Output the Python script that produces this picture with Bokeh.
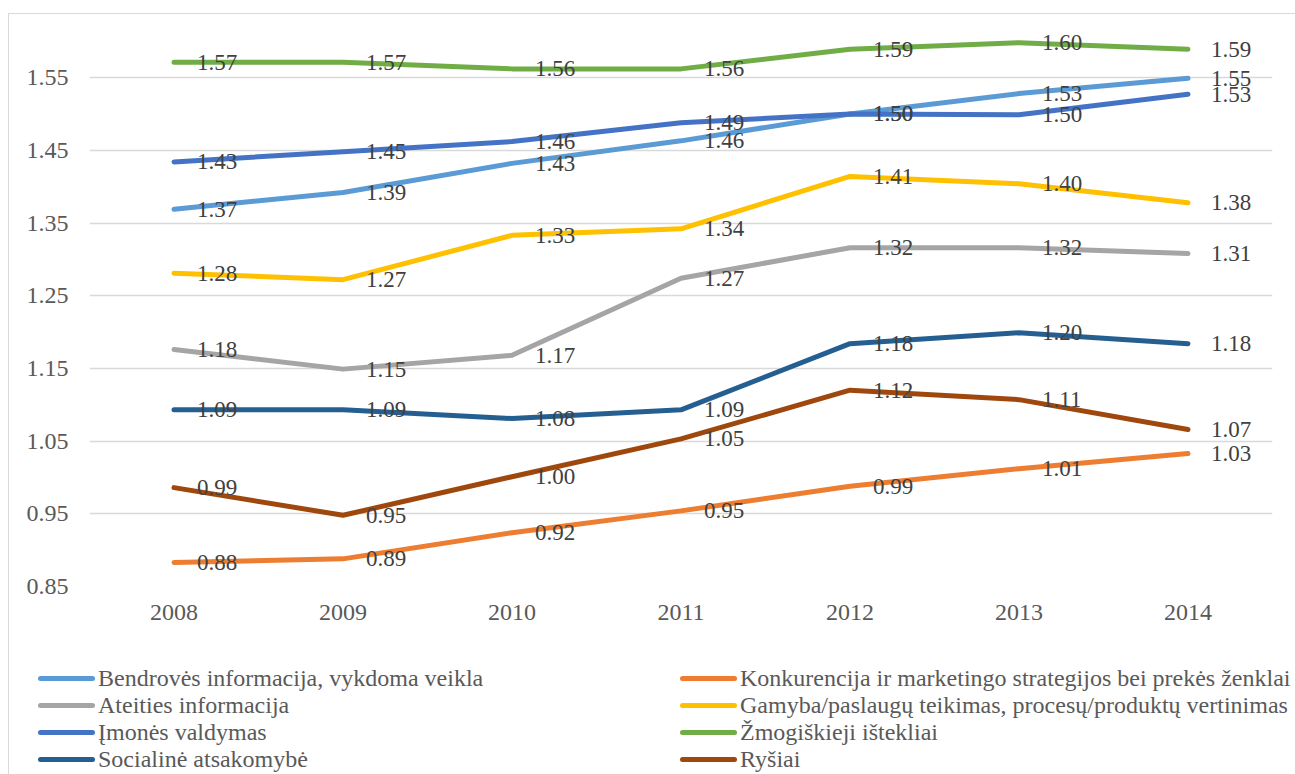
from bokeh.plotting import figure
from bokeh.layouts import column
from bokeh.models import (FactorRange, Range1d, FixedTicker, NumeralTickFormatter,
                          ColumnDataSource, Div)
from bokeh.core.properties import value
from bokeh.embed import file_html
from bokeh.resources import INLINE

years = ["2008", "2009", "2010", "2011", "2012", "2013", "2014"]

series_names = [
    "Bendrovės informacija, vykdoma veikla",
    "Konkurencija ir marketingo strategijos bei prekės ženklai",
    "Ateities informacija",
    "Gamyba/paslaugų teikimas, procesų/produktų vertinimas",
    "Įmonės valdymas",
    "Žmogiškieji ištekliai",
    "Socialinė atsakomybė",
    "Ryšiai",
]

bendroves = [1.369, 1.392, 1.432, 1.463, 1.500, 1.528, 1.549]
konkurencija = [0.883, 0.888, 0.924, 0.954, 0.988, 1.012, 1.033]
ateities = [1.176, 1.149, 1.168, 1.274, 1.316, 1.316, 1.308]
gamyba = [1.281, 1.272, 1.333, 1.342, 1.414, 1.404, 1.378]
imones = [1.434, 1.448, 1.462, 1.488, 1.500, 1.499, 1.527]
zmogiskieji = [1.571, 1.571, 1.562, 1.562, 1.589, 1.598, 1.589]
socialine = [1.093, 1.093, 1.081, 1.093, 1.184, 1.199, 1.184]
rysiai = [0.986, 0.948, 1.001, 1.053, 1.120, 1.107, 1.066]

y_ticks = [0.85, 0.95, 1.05, 1.15, 1.25, 1.35, 1.45, 1.55]

colors = ["#5B9BD5", "#ED7D31", "#A5A5A5", "#FFC000",
          "#4472C4", "#70AD47", "#255E91", "#9E480E"]

all_series = [bendroves, konkurencija, ateities, gamyba,
              imones, zmogiskieji, socialine, rysiai]

FONT = "Liberation Serif"
LINE_W = 5

# chart placed at x=9, y=14 inside the bordered container
p = figure(width=1286, height=632, output_backend="svg", toolbar_location=None,
           x_range=FactorRange(factors=years, range_padding=0),
           y_range=Range1d(0.85, 0.85 + 572 / 727.0),
           min_border_left=80, min_border_right=23, min_border_top=0,
           min_border_bottom=60)
p.background_fill_color = "white"
p.border_fill_color = "white"
p.outline_line_color = None

p.xgrid.grid_line_color = None
p.ygrid.grid_line_color = "#D9D9D9"
p.ygrid.grid_line_width = 1.3
p.yaxis.ticker = FixedTicker(ticks=y_ticks)
p.yaxis.formatter = NumeralTickFormatter(format="0.00")

for ax in (p.xaxis[0], p.yaxis[0]):
    ax.axis_line_color = None
    ax.major_tick_line_color = None
    ax.minor_tick_line_color = None
    ax.major_tick_out = 0
    ax.major_tick_in = 0
    ax.major_label_text_font = FONT
    ax.major_label_text_font_size = "24px"
    ax.major_label_text_color = "#595959"
p.yaxis.major_label_standoff = 21
p.xaxis.major_label_standoff = 18

for name, vals, col in zip(series_names, all_series, colors):
    src = ColumnDataSource(dict(x=years, y=vals))
    p.line("x", "y", source=src, line_color=col, line_width=LINE_W, line_cap="round",
           line_join="round")

for vals in all_series:
    src = ColumnDataSource(dict(x=years, y=vals, t=["%.2f" % v for v in vals]))
    p.text("x", "y", text="t", source=src, x_offset=23, text_baseline="middle",
           text_align="left", text_font=value(FONT), text_font_size="23px",
           text_color="#404040")

# legend: two columns of four entries under the chart
left_idx = [0, 2, 4, 6]
right_idx = [1, 3, 5, 7]
col_left = [29, 671]
row_top = [18, 45, 72, 99]

items_html = []
for c, idx_list in enumerate([left_idx, right_idx]):
    for r, i in enumerate(idx_list):
        items_html.append(
            '<div style="position:absolute;left:%dpx;top:%dpx;height:28px;'
            'display:flex;align-items:center;white-space:nowrap;">'
            '<span style="display:inline-block;width:57px;height:5px;border-radius:3px;'
            'background:%s;"></span>'
            '<span style="margin-left:3px;font-family:\'%s\';font-size:24px;'
            'line-height:28px;color:#595959;">%s</span></div>'
            % (col_left[c], row_top[r], colors[i], FONT, series_names[i]))

legend_div = Div(text='<div style="position:relative;width:1286px;height:128px;">'
                 + "".join(items_html) + "</div>",
                 width=1286, height=128, margin=0)

layout = column(p, legend_div, spacing=0, margin=(13, 0, 0, 8),
                styles={"border-left": "1px solid #D9D9D9",
                        "border-top": "1px solid #D9D9D9"})

open("out.html", "w").write(file_html(layout, INLINE))
